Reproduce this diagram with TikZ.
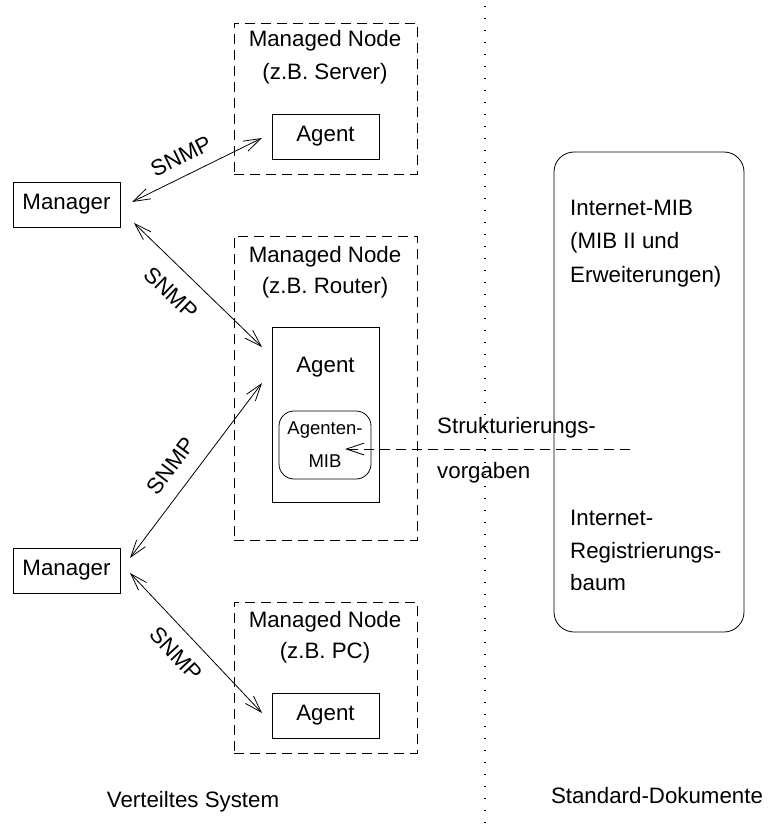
\documentclass[tikz,border=0pt]{standalone}
\usepackage{fontspec}
\setmainfont{Liberation Sans}
\usetikzlibrary{arrows.meta}
\begin{document}
\begin{tikzpicture}[x=1pt,y=-1pt,
  font=\fontsize{22.3}{26}\selectfont,
  solidbox/.style={draw, line width=0.8pt, minimum width=107pt, minimum height=45pt, inner sep=0pt},
  dashbox/.style={draw, line width=0.8pt, dash pattern=on 10pt off 6pt, minimum width=183pt, inner sep=0pt},
  lbl/.style={anchor=base, inner sep=0pt},
  lleft/.style={anchor=base west, inner sep=0pt},
  snmp/.style={inner sep=0pt},
  conn/.style={line width=0.8pt, {Straight Barb[length=17pt,width=11pt]}-{Straight Barb[length=17pt,width=11pt]}},
  dconn/.style={line width=0.8pt, dash pattern=on 10pt off 6pt, -{Straight Barb[length=18pt,width=12pt]}}
]
\useasboundingbox (0,0) rectangle (773,834);

% dotted separator
\coordinate (dtop) at (485,6);
\coordinate (dbot) at (485,832);
\draw[line width=1.2pt, dash pattern=on 1.2pt off 10.8pt] (dtop) -- (dbot);

% managed node containers
\node[dashbox, minimum height=151pt] (mn1) at (325.5,98.5) {};
\node[dashbox, minimum height=304pt] (mn2) at (325.5,388) {};
\node[dashbox, minimum height=151pt] (mn3) at (325.5,677.5) {};

\node[lbl] (mn1a) at (325,47) {Managed Node};
\node[lbl] (mn1b) at (325,80) {(z.B. Server)};
\node[lbl] (mn2a) at (325,262) {Managed Node};
\node[lbl] (mn2b) at (325,293) {(z.B. Router)};
\node[lbl] (mn3a) at (325,627) {Managed Node};
\node[lbl] (mn3b) at (325,658) {(z.B. PC)};

% agents
\node[solidbox] (ag1) at (325.5,136.5) {Agent};
\node[draw, line width=0.8pt, minimum width=107pt, minimum height=175pt, inner sep=0pt] (ag2) at (325.5,414.5) {};
\node[lbl] (ag2t) at (325.5,372) {Agent};
\node[draw, line width=0.8pt, rounded corners=15pt, minimum width=92pt, minimum height=68pt, inner sep=0pt] (mib) at (325,445) {};
\node[lbl, font=\fontsize{18.5}{21}\selectfont] (mibt1) at (325,434) {Agenten-};
\node[lbl, font=\fontsize{18.5}{21}\selectfont] (mibt2) at (325,467) {MIB};
\node[solidbox] (ag3) at (325.5,715.5) {Agent};

% managers
\node[solidbox] (man1) at (66.5,204.5) {Manager};
\node[solidbox] (man2) at (66.5,570.5) {Manager};

% connector end points
\coordinate (e1a) at (132,202);
\coordinate (e1b) at (262,138);
\coordinate (e2a) at (134,223);
\coordinate (e2b) at (262,347);
\coordinate (e3a) at (130,558);
\coordinate (e3b) at (262,383);
\coordinate (e4a) at (130,573);
\coordinate (e4b) at (262,713);

\draw[conn] (e1a) -- (e1b);
\draw[conn] (e2a) -- (e2b);
\draw[conn] (e3a) -- (e3b);
\draw[conn] (e4a) -- (e4b);

\node[snmp, rotate=26] (s1) at (181,156) {SNMP};
\node[snmp, rotate=-44] (s2) at (171,293) {SNMP};
\node[snmp, rotate=53] (s3) at (171,466) {SNMP};
\node[snmp, rotate=-47] (s4) at (176,654) {SNMP};

% standard documents box
\node[draw, line width=0.8pt, rounded corners=20pt, minimum width=190pt, minimum height=480pt, inner sep=0pt] (std) at (649,392) {};
\node[lleft] (st1) at (570,215) {Internet-MIB};
\node[lleft] (st2) at (570,248) {(MIB II und};
\node[lleft] (st3) at (570,282) {Erweiterungen)};
\node[lleft] (st4) at (570,525) {Internet-};
\node[lleft] (st5) at (570,558) {Registrierungs-};
\node[lleft] (st6) at (570,590) {baum};

% structuring arrow
\coordinate (dstart) at (630,449);
\coordinate (dend) at (345,449);
\draw[dconn] (dstart) -- (dend);
\node[lleft] (sv1) at (437,433) {Strukturierungs-};
\node[lleft] (sv2) at (437,478) {vorgaben};

% captions
\node[lbl] (cap1) at (193,807) {Verteiltes System};
\node[lbl] (cap2) at (657,803) {Standard-Dokumente};
\end{tikzpicture}
\end{document}
